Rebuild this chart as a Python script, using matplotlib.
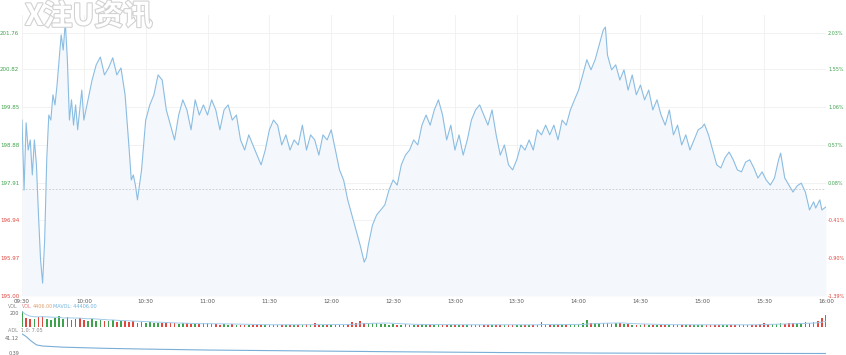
import numpy as np
import matplotlib
matplotlib.use('Agg')
import matplotlib.pyplot as plt
import matplotlib.patheffects as pe

# intraday data, 09:30 -> 16:00, minutes since open
prev_close = 197.75
minutes = [0, 1, 2, 3, 4, 5, 6, 7, 8, 9, 10, 11, 12, 13, 14, 15, 16, 17, 18, 19,
           20, 21, 22, 23, 24, 25, 26, 27, 28, 29, 30, 32, 34, 36, 38, 40, 42, 44,
           46, 48, 50, 52, 53, 54, 55, 56, 57, 58, 60, 62, 64, 66, 68, 70, 72, 74,
           76, 78, 80, 82, 84, 86, 88, 90, 92, 94, 96, 98, 100, 102, 104, 106, 108,
           110, 112, 114, 116, 118, 120, 122, 124, 126, 128, 130, 132, 134, 136,
           138, 140, 142, 144, 146, 148, 150, 152, 154, 156, 158, 160, 162, 164,
           166, 167, 168, 170, 172, 174, 176, 178, 180, 182, 184, 186, 188, 190,
           192, 194, 196, 198, 200, 202, 204, 206, 208, 210, 212, 214, 216, 218,
           220, 222, 224, 226, 228, 230, 232, 234, 236, 238, 240, 242, 244, 246,
           248, 250, 252, 254, 256, 258, 260, 262, 264, 266, 268, 270, 272, 274,
           276, 278, 280, 282, 283, 284, 286, 288, 290, 292, 294, 296, 298, 300,
           302, 304, 306, 308, 310, 312, 314, 316, 318, 320, 322, 324, 326, 328,
           330, 331, 333, 335, 337, 339, 341, 343, 345, 347, 349, 351, 353, 355,
           357, 359, 361, 363, 365, 367, 368, 370, 372, 374, 376, 378, 380, 382,
           384, 385, 387, 388, 390]
prices = [199.52, 197.72, 199.45, 198.75, 199.01, 198.11, 199.01, 198.37, 197.08, 195.93,
          195.33, 196.44, 198.50, 199.65, 199.52, 200.17, 199.91, 200.42, 201.07, 201.71,
          201.32, 202.04, 201.07, 199.52, 200.04, 199.39, 199.91, 199.27, 199.78, 200.29,
          199.52, 200.04, 200.55, 200.94, 201.14, 200.68, 200.86, 201.12, 200.68, 200.86,
          200.17, 198.75, 197.98, 198.11, 197.85, 197.47, 197.85, 198.24, 199.52, 199.91,
          200.17, 200.68, 200.55, 199.78, 199.39, 199.01, 199.65, 200.04, 199.78, 199.27,
          200.04, 199.65, 199.91, 199.65, 200.04, 199.78, 199.27, 199.78, 199.91, 199.52,
          199.65, 199.01, 198.75, 199.14, 198.88, 198.62, 198.37, 198.75, 199.27, 199.52,
          199.39, 198.88, 199.14, 198.75, 199.01, 198.88, 199.39, 198.75, 199.14, 199.01,
          198.62, 199.14, 199.01, 199.27, 198.75, 198.24, 197.98, 197.47, 197.08, 196.70,
          196.31, 195.87, 195.98, 196.31, 196.82, 197.08, 197.21, 197.34, 197.72, 197.98,
          197.85, 198.37, 198.62, 198.75, 199.01, 198.88, 199.39, 199.65, 199.39, 199.78,
          200.04, 199.65, 199.01, 199.39, 198.75, 199.14, 198.62, 199.01, 199.52, 199.78,
          199.91, 199.65, 199.39, 199.78, 199.14, 198.62, 198.88, 198.37, 198.24, 198.50,
          198.88, 198.75, 199.01, 198.75, 199.27, 199.14, 199.39, 199.14, 199.39, 199.01,
          199.52, 199.39, 199.78, 200.04, 200.29, 200.68, 201.07, 200.81, 201.07, 201.45,
          201.84, 201.91, 201.19, 200.81, 200.94, 200.55, 200.81, 200.29, 200.68, 200.17,
          200.42, 200.04, 200.29, 199.78, 200.04, 199.65, 199.39, 199.78, 199.14, 199.39,
          198.88, 199.14, 198.75, 199.01, 199.27, 199.34, 199.42, 199.14, 198.75, 198.37,
          198.29, 198.55, 198.70, 198.50, 198.24, 198.19, 198.44, 198.50, 198.29, 198.03,
          198.19, 197.98, 197.85, 198.03, 198.50, 198.67, 198.03, 197.85, 197.67, 197.83,
          197.90, 197.67, 197.21, 197.42, 197.26, 197.47, 197.21, 197.29]

price_levels = [195.00, 195.97, 196.94, 197.91, 198.88, 199.85, 200.82, 201.76]
time_labels = ['09:30', '10:00', '10:30', '11:00', '11:30', '12:00', '12:30',
               '13:00', '13:30', '14:00', '14:30', '15:00', '15:30', '16:00']

# volume, one bar per 2 minutes
volume = [220, 130, 110, 120, 140, 160, 120, 100, 130, 150, 120, 140, 100, 110, 130,
          100, 90, 120, 80, 100, 90, 80, 100, 70, 80, 90, 70, 80, 60, 70,
          60, 70, 50, 60, 50, 60, 50, 50, 40, 50, 50, 40, 45, 40, 50,
          60, 40, 45, 35, 40, 35, 40, 30, 35, 30, 35, 30, 30, 35, 30,
          30, 35, 30, 30, 35, 30, 35, 30, 30, 40, 30, 50, 30, 30, 35,
          30, 35, 30, 30, 45, 70, 60, 80, 60, 50, 60, 50, 45, 40, 35,
          40, 35, 30, 40, 35, 30, 35, 40, 35, 30, 30, 40, 30, 30, 35,
          30, 30, 35, 30, 30, 30, 35, 30, 30, 30, 30, 30, 35, 30, 30,
          30, 30, 30, 35, 30, 30, 75, 30, 30, 30, 30, 30, 35, 30, 40,
          45, 50, 95, 60, 55, 60, 55, 50, 45, 50, 50, 45, 40, 35, 35,
          35, 45, 30, 30, 30, 30, 30, 35, 30, 30, 30, 30, 30, 35, 30,
          30, 30, 35, 30, 30, 30, 30, 30, 35, 30, 30, 35, 30, 35, 45,
          50, 40, 45, 40, 50, 45, 55, 50, 60, 55, 70, 60, 75, 80, 130, 170]

# lower indicator panel
ind_minutes = [0, 2, 4, 7, 10, 20, 40, 60, 90, 130, 180, 230, 280, 330, 390]
ind_values = [52, 45, 35, 23, 20, 17, 14, 12, 9.5, 7.5, 5, 3, 1.5, 0.8, 0.39]

W, H = 846, 355
GREEN = '#3fa34d'
RED = '#e0473f'


def rect(x0, y0, x1, y1):
    return [x0 / W, 1 - y1 / H, (x1 - x0) / W, (y1 - y0) / H]


fig = plt.figure(figsize=(W / 100, H / 100), dpi=100)

# main price panel
ax = fig.add_axes(rect(22, 15, 826, 296))
ax.set_xlim(0, 390)
ax.set_ylim(195.00, 202.22)
ax.fill_between(minutes, prices, 195.0, color='#f4f8fc', lw=0)
ax.plot(minutes, prices, color='#8bbde2', lw=0.8)
ax.axhline(prev_close, color='#c8c8c8', ls=(0, (2, 2)), lw=0.6)
ax.set_xticks(range(0, 391, 30))
ax.set_xticklabels(time_labels)
ax.set_yticks(price_levels)
ax.set_yticklabels([f'{v:.2f}' for v in price_levels])
ax.grid(color='#f0f0f0', lw=0.6)
ax.set_axisbelow(True)
for s in ax.spines.values():
    s.set_visible(False)
ax.tick_params(length=0, labelsize=4, pad=2, colors='#555555')
for lab, v in zip(ax.get_yticklabels(), price_levels):
    lab.set_color(GREEN if v > prev_close else RED)

ax2 = ax.twinx()
ax2.set_ylim(ax.get_ylim())
ax2.set_yticks(price_levels)
ax2.set_yticklabels([f'{(v / prev_close - 1) * 100:.2f}%' for v in price_levels])
for s in ax2.spines.values():
    s.set_visible(False)
ax2.tick_params(length=0, labelsize=3.5, pad=1.5)
for lab, v in zip(ax2.get_yticklabels(), price_levels):
    lab.set_color(GREEN if v > prev_close else RED)

# volume panel
vol_t = np.arange(len(volume)) * 2
p_now = np.interp(vol_t, minutes, prices)
p_before = np.interp(vol_t - 2, minutes, prices)
bar_colors = [GREEN if a >= b else RED for a, b in zip(p_now, p_before)]
axv = fig.add_axes(rect(22, 303, 826, 327))
axv.bar(vol_t, volume, width=0.8, color=bar_colors, lw=0)
ma = np.convolve(volume, np.ones(10) / 10, mode='full')[:len(volume)]
ma[:10] = np.cumsum(volume[:10]) / np.arange(1, 11)
axv.plot(vol_t, ma, color='#9fcbea', lw=0.7)
axv.set_xlim(0, 390)
axv.set_ylim(0, 340)
axv.set_xticks([])
axv.set_yticks([200])
axv.set_yticklabels(['200'])
axv.tick_params(length=0, labelsize=3.5, pad=2, colors='#666666')
for s in axv.spines.values():
    s.set_visible(False)
axv.axhline(0, color='#e6e6e6', lw=0.5)

fig.text(8 / W, 1 - 306 / H, 'VOL', fontsize=3.5, color='#888888', va='center')
fig.text(22 / W, 1 - 306 / H, 'VOL', fontsize=3.5, color='#e07a7a', va='center')
fig.text(33 / W, 1 - 306 / H, '4406.00', fontsize=3.5, color='#e0a070', va='center')
fig.text(53 / W, 1 - 306 / H, 'MAVOL: 44406.00', fontsize=3.5, color='#6fb3d9', va='center')

# indicator panel
axi = fig.add_axes(rect(22, 330, 826, 355))
axi.plot(ind_minutes, ind_values, color='#7aaed6', lw=0.8)
axi.set_xlim(0, 390)
axi.set_ylim(-3.55, 62.1)
axi.set_xticks([])
axi.set_yticks([41.12, 0.39])
axi.set_yticklabels(['41.12', '0.39'])
axi.tick_params(length=0, labelsize=3.5, pad=2, colors='#666666')
for s in axi.spines.values():
    s.set_visible(False)
fig.text(8 / W, 1 - 331 / H, 'ADL  1.0: 7.05', fontsize=3.5, color='#888888', va='center')

# watermark
fig.text(25 / W, 1 - 1 / H, 'X注U资讯', fontsize=21, weight='bold',
         family=['Noto Sans CJK SC', 'DejaVu Sans'], color='white', va='top',
         path_effects=[pe.withStroke(linewidth=1.6, foreground='#d2d2d2')])

fig.savefig('out.png', dpi=100)
